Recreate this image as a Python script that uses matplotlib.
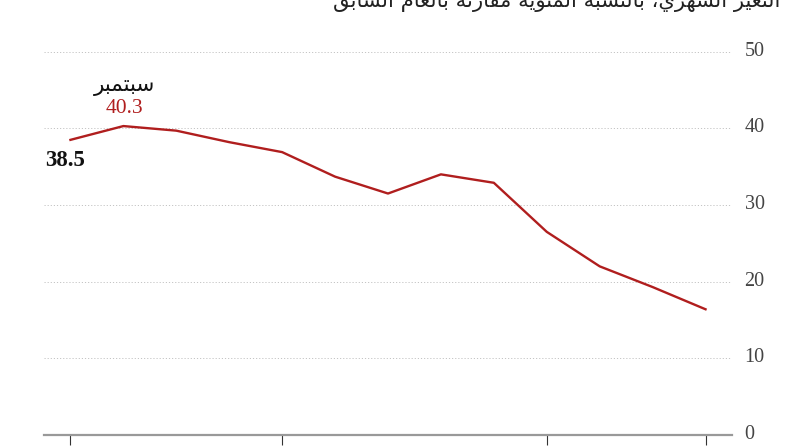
import matplotlib
matplotlib.use("Agg")
import matplotlib.pyplot as plt
import matplotlib.transforms as mtransforms

# ---------------- data ----------------
months_idx = list(range(13))
values = [38.5, 40.3, 39.7, 38.2, 36.9, 33.7, 31.5, 34.0, 32.9, 26.5, 22.0, 19.3, 16.4]
y_ticks = [0, 10, 20, 30, 40, 50]
x_tick_positions = [0, 4, 9, 12]
title_text = "التغير الشهري، بالنسبة المئوية مقارنة بالعام السابق"
peak_label = "سبتمبر"

# ---------------- simple Arabic shaping ----------------
_DUAL = {
    'ئ': 0xFE89, 'ب': 0xFE8F, 'ت': 0xFE95, 'ث': 0xFE99, 'ج': 0xFE9D, 'ح': 0xFEA1,
    'خ': 0xFEA5, 'س': 0xFEB1, 'ش': 0xFEB5, 'ص': 0xFEB9, 'ض': 0xFEBD, 'ط': 0xFEC1,
    'ظ': 0xFEC5, 'ع': 0xFEC9, 'غ': 0xFECD, 'ف': 0xFED1, 'ق': 0xFED5, 'ك': 0xFED9,
    'ل': 0xFEDD, 'م': 0xFEE1, 'ن': 0xFEE5, 'ه': 0xFEE9, 'ي': 0xFEF1,
}
_RIGHT = {
    'آ': 0xFE81, 'أ': 0xFE83, 'ؤ': 0xFE85, 'إ': 0xFE87, 'ا': 0xFE8D, 'ة': 0xFE93,
    'د': 0xFEA9, 'ذ': 0xFEAB, 'ر': 0xFEAD, 'ز': 0xFEAF, 'و': 0xFEED, 'ى': 0xFEEF,
}
_LAMALEF = {'آ': 0xFEF5, 'أ': 0xFEF7, 'إ': 0xFEF9, 'ا': 0xFEFB}


def _joins_next(c):
    return c in _DUAL


def _joins_prev(c):
    return c in _DUAL or c in _RIGHT


def shape_ar(s):
    out = []
    i = 0
    n = len(s)
    prev = None
    while i < n:
        c = s[i]
        nxt = s[i + 1] if i + 1 < n else None
        cp = prev is not None and _joins_next(prev) and _joins_prev(c)
        if c == 'ل' and nxt in _LAMALEF:
            out.append(chr(_LAMALEF[nxt] + (1 if cp else 0)))
            prev = nxt
            i += 2
            continue
        cn = nxt is not None and _joins_next(c) and _joins_prev(nxt)
        if c in _DUAL:
            base = _DUAL[c]
            if cp and cn:
                off = 3
            elif cn:
                off = 2
            elif cp:
                off = 1
            else:
                off = 0
            out.append(chr(base + off))
        elif c in _RIGHT:
            out.append(chr(_RIGHT[c] + (1 if cp else 0)))
        else:
            out.append(c)
        prev = c
        i += 1
    return ''.join(reversed(out))


# ---------------- figure ----------------
W, H = 792, 446
fig = plt.figure(figsize=(W / 100, H / 100), dpi=100)
ax = fig.add_axes([44 / W, 11 / H, (732 - 44) / W, (435 - 51.7) / H])

red = '#b01e1e'
serif = ['Liberation Serif', 'DejaVu Serif']
arab = ['DejaVu Sans']

ax.plot(months_idx, values, color=red, lw=1.7, solid_joinstyle='round', zorder=3)

ax.set_xlim(-0.5, 12.5)
ax.set_ylim(0, 50)
ax.set_yticks(y_ticks)
ax.yaxis.tick_right()
ax.tick_params(axis='y', length=0, pad=9, labelsize=14.5, labelcolor='#444444')
shift_up = mtransforms.ScaledTranslation(0, 3 / 100, fig.dpi_scale_trans)
for lbl in ax.get_yticklabels():
    lbl.set_fontfamily(serif)
    lbl.set_transform(lbl.get_transform() + shift_up)
ax.grid(axis='y', color='#c4c4c4', linestyle=(0, (1.2, 2.0)), linewidth=0.7)

ax.set_xticks(x_tick_positions)
ax.set_xticklabels([''] * len(x_tick_positions))
ax.tick_params(axis='x', length=7, width=0.8, color='#333333', direction='out')

for side in ['top', 'left', 'right']:
    ax.spines[side].set_visible(False)
ax.spines['bottom'].set_color('#999999')
ax.spines['bottom'].set_linewidth(1.6)
ax.spines['bottom'].set_zorder(4)

# annotations
ax.annotate(f"{values[0]:.1f}", xy=(months_idx[0], values[0]), xytext=(-18, -15),
            textcoords='offset points', ha='left', va='center', fontsize=16.5,
            fontweight='bold', color='#111111', family=serif)
ax.annotate(f"{values[1]:.1f}", xy=(months_idx[1], values[1]), xytext=(0.5, 12.5),
            textcoords='offset points', ha='center', va='center', fontsize=15.5,
            color=red, family=serif)
ax.annotate(shape_ar(peak_label), xy=(months_idx[1], values[1]), xytext=(0.5, 29),
            textcoords='offset points', ha='center', va='center', fontsize=15.5,
            color='#111111', family=arab)

fig.text(780 / W, 1 - 7 / H, shape_ar(title_text), ha='right', va='baseline',
         fontsize=15.2, color='#222222', family=arab)

fig.savefig('out.png', dpi=100, facecolor='white')
